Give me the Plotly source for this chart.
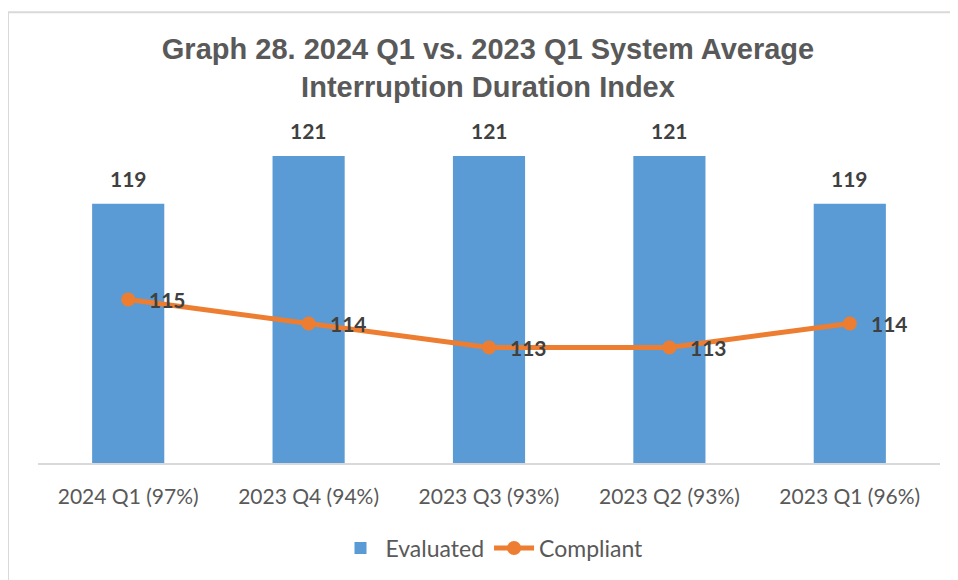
import plotly.graph_objects as go

categories = ["2024 Q1 (97%)", "2023 Q4 (94%)", "2023 Q3 (93%)", "2023 Q2 (93%)", "2023 Q1 (96%)"]
evaluated = [119, 121, 121, 121, 119]
compliant = [115, 114, 113, 113, 114]

BAR = "#5B9BD5"
LINE = "#ED7D31"
TXT = "#595959"
LBL = "#404040"
BODY_FONT = "Lato"

# page has an 8px body margin; figure coordinates = reference coordinates - 8
OFF = 8
W, H = 958 - OFF, 580 - OFF
L, R = 38 - OFF, 958 - 940
T, B = 120 - OFF, 580 - 464
pw = W - L - R
ph = H - T - B

def px(x):
    return (x - OFF - L) / pw

def py(y):
    return (H - B - (y - OFF)) / ph

fig = go.Figure()
fig.add_trace(go.Bar(
    x=categories, y=evaluated, name="Evaluated",
    marker=dict(color=BAR, line=dict(width=0)),
    width=0.4,
))
fig.add_trace(go.Scatter(
    x=categories, y=compliant, name="Compliant",
    mode="lines+markers",
    line=dict(color=LINE, width=5),
    marker=dict(color=LINE, size=14),
    cliponaxis=False,
))

annotations = []
for c, v in zip(categories, evaluated):
    annotations.append(dict(
        x=c, y=v, xref="x", yref="y", text=str(v), showarrow=False,
        xanchor="center", yanchor="bottom", yshift=11,
        font=dict(family=BODY_FONT, size=21, color=LBL, weight="bold"),
    ))
for c, v in zip(categories, compliant):
    annotations.append(dict(
        x=c, y=v, xref="x", yref="y", text=str(v), showarrow=False,
        xanchor="left", yanchor="middle", xshift=19, yshift=0,
        font=dict(family=BODY_FONT, size=21, color=LBL, weight="bold"),
    ))

fig.update_layout(
    width=W, height=H,
    margin=dict(l=L, r=R, t=T, b=B),
    paper_bgcolor="white", plot_bgcolor="white",
    title=dict(
        text="Graph 28. 2024 Q1 vs. 2023 Q1 System Average<br>Interruption Duration Index",
        x=(488 - OFF) / W, xanchor="center", y=1 - (59 - OFF) / H, yanchor="middle", yref="container",
        font=dict(family="Liberation Sans", size=29, color=TXT, weight="bold"),
    ),
    xaxis=dict(
        showline=True, linecolor="#d9d9d9", linewidth=2,
        tickfont=dict(family=BODY_FONT, size=21, color=TXT),
        ticks="", showgrid=False, ticklabelstandoff=14,
    ),
    yaxis=dict(range=[108.17, 122.5], visible=False, showgrid=False),
    legend=dict(
        orientation="h", x=px(492), xanchor="center", y=py(548), yanchor="middle",
        font=dict(family=BODY_FONT, size=23, color=TXT),
        itemwidth=40,
    ),
    showlegend=True,
    annotations=annotations,
    shapes=[dict(
        type="rect", xref="paper", yref="paper",
        x0=px(8), x1=px(1000), y0=py(700), y1=py(12),
        line=dict(color="#d9d9d9", width=2), fillcolor="rgba(0,0,0,0)", layer="below",
    )],
)

fig.write_html("out.html")
